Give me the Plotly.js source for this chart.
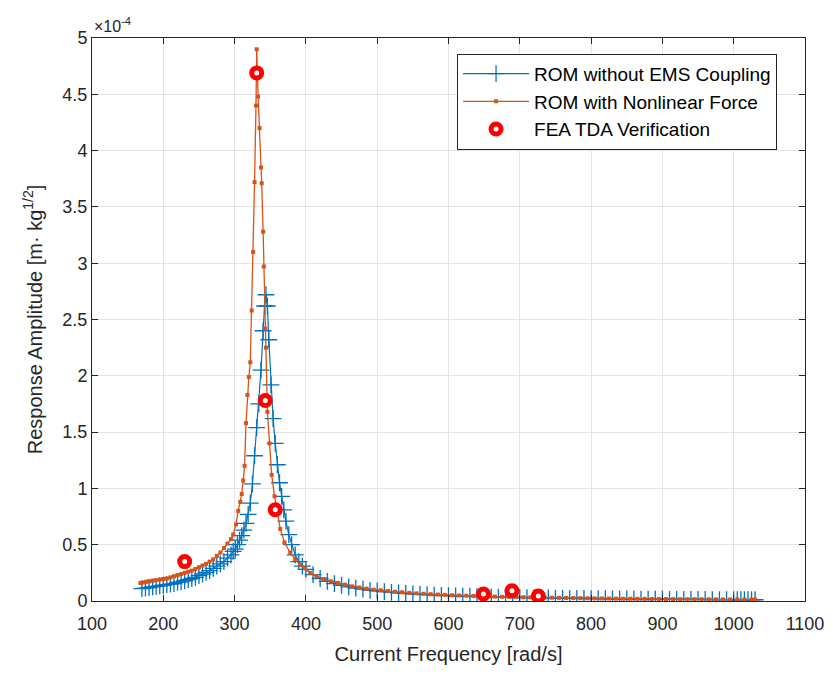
<!DOCTYPE html>
<html>
<head>
<meta charset="utf-8">
<script src="https://cdn.plot.ly/plotly-3.0.1.min.js"></script>
<style>html,body{margin:0;padding:0;background:#fff;}#chart{width:833px;height:677px;}</style>
</head>
<body>
<div id="chart"></div>
<script>
// Amplitudes are given in units of 1e-4 m·kg^1/2
const romFreq = [170,175,180,185,190,195,200,205,210,215,220,225,230,235,240,245,250,255,260,265,270,275,280,285,290,295,298,301,304,307,310,313,316,319,322,325,328,331,334,337,340,342,344,346,348,351,354,357,360,363,366,369,372,376,380,385,390,395,400,410,420,430,440,450,460,470,480,490,500,510,520,530,540,550,560,570,580,590,600,610,620,630,640,650,660,670,680,690,700,710,720,730,740,750,760,770,780,790,800,810,820,830,840,850,860,870,880,890,900,910,920,930,940,950,960,970,980,990,1000,1005,1010,1015,1020,1025,1030];
const romAmp = [0.11,0.115,0.12,0.125,0.13,0.135,0.14,0.145,0.15,0.155,0.165,0.17,0.18,0.19,0.20,0.21,0.225,0.24,0.255,0.27,0.29,0.31,0.33,0.35,0.38,0.41,0.44,0.46,0.50,0.54,0.58,0.63,0.69,0.77,0.87,1.04,1.29,1.54,1.75,2.05,2.40,2.62,2.72,2.62,2.32,1.92,1.62,1.40,1.21,1.05,0.93,0.81,0.71,0.59,0.50,0.41,0.35,0.31,0.28,0.235,0.20,0.175,0.155,0.14,0.125,0.115,0.105,0.095,0.09,0.083,0.077,0.072,0.067,0.063,0.06,0.056,0.053,0.05,0.048,0.046,0.044,0.042,0.04,0.038,0.036,0.035,0.033,0.032,0.031,0.030,0.029,0.028,0.027,0.026,0.025,0.024,0.023,0.022,0.021,0.021,0.020,0.019,0.019,0.018,0.018,0.017,0.017,0.016,0.016,0.015,0.015,0.015,0.014,0.014,0.014,0.013,0.013,0.013,0.012,0.012,0.012,0.012,0.011,0.011,0.011];

const nlFreq = [168,172,176,180,185,190,195,200,205,210,215,220,225,230,235,240,245,250,255,260,265,270,275,280,285,290,295,298,302,305,308,310,312,314,316,318,320,322,324,326,328,330,331,333,335,337,338,340,341,343,344,346,349,352,356,360,364,370,378,385,392,399,406,415,425,435,445,455,465,475,485,495,505,515,525,535,545,555,565,575,585,595,605,615,625,635,645,655,665,675,685,695,705,715,725,735,745,755,765,775,785,795,805,815,825,835,845,855,865,875,885,895,905,915,925,935,945,955,965,975,985,995,1005,1015,1025,1030];
const nlAmp = [0.16,0.165,0.17,0.175,0.18,0.185,0.19,0.195,0.20,0.21,0.22,0.23,0.24,0.25,0.26,0.27,0.285,0.30,0.315,0.33,0.35,0.37,0.40,0.43,0.47,0.51,0.55,0.59,0.68,0.80,0.88,0.95,1.07,1.20,1.58,1.83,1.99,2.12,2.58,3.10,3.72,4.40,4.90,4.48,4.20,3.85,3.71,3.28,2.97,2.42,2.25,1.68,1.40,1.12,0.93,0.78,0.64,0.52,0.43,0.37,0.32,0.29,0.25,0.22,0.195,0.175,0.16,0.145,0.13,0.12,0.11,0.10,0.095,0.088,0.082,0.077,0.072,0.068,0.064,0.06,0.057,0.054,0.051,0.049,0.047,0.045,0.043,0.041,0.039,0.037,0.036,0.034,0.033,0.032,0.031,0.030,0.029,0.028,0.027,0.026,0.025,0.024,0.023,0.022,0.022,0.021,0.020,0.020,0.019,0.019,0.018,0.018,0.017,0.017,0.016,0.016,0.016,0.015,0.015,0.015,0.014,0.014,0.014,0.013,0.013,0.013];

const feaFreq = [230,331,343,357,649,689,726];
const feaAmp = [0.35,4.69,1.78,0.81,0.062,0.09,0.044];

const seriesNames = ["ROM without EMS Coupling","ROM with Nonlinear Force","FEA TDA Verification"];
const xTicks = [100,200,300,400,500,600,700,800,900,1000,1100];
const yTicks = [0,0.5,1,1.5,2,2.5,3,3.5,4,4.5,5];

const FONT = "Liberation Sans, Arial, Helvetica, sans-serif";
const INK = "#262626";

const traces = [
  {x: romFreq, y: romAmp, name: seriesNames[0], type: "scatter", mode: "lines+markers",
   line: {color: "#0072BD", width: 1.2},
   marker: {symbol: "cross-thin", size: 12, color: "#0072BD", line: {color: "#0072BD", width: 1.3}}},
  {x: nlFreq, y: nlAmp, name: seriesNames[1], type: "scatter", mode: "lines+markers",
   line: {color: "#D95319", width: 1.3},
   marker: {symbol: "square", size: 4, color: "#D95319"}},
  {x: feaFreq, y: feaAmp, name: seriesNames[2], type: "scatter", mode: "markers",
   marker: {symbol: "circle", size: 10, color: "#ffffff", line: {color: "#ff0000", width: 5}}}
];

const layout = {
  width: 833, height: 677,
  margin: {l: 92, r: 28, t: 38, b: 76},
  paper_bgcolor: "#ffffff", plot_bgcolor: "#ffffff",
  font: {family: FONT, color: INK, size: 18},
  showlegend: true,
  legend: {x: 0.512, y: 0.972, xanchor: "left", yanchor: "top",
    bgcolor: "#ffffff", bordercolor: INK, borderwidth: 1,
    font: {family: FONT, size: 19, color: "#000000"}, itemwidth: 66, tracegroupgap: 0},
  xaxis: {range: [100, 1100], tickvals: xTicks, ticks: "inside", ticklen: 6, tickcolor: INK,
    showline: true, linecolor: INK, linewidth: 1, mirror: "ticks",
    showgrid: true, gridcolor: "#e3e3e3", gridwidth: 1, zeroline: false,
    ticklabelstandoff: 6,
    tickfont: {size: 18, color: INK, family: FONT},
    title: {text: "Current Frequency [rad/s]", font: {size: 20, color: INK, family: FONT}, standoff: 14}},
  yaxis: {range: [0, 5], tickvals: yTicks, ticks: "inside", ticklen: 6, tickcolor: INK,
    showline: true, linecolor: INK, linewidth: 1, mirror: "ticks",
    showgrid: true, gridcolor: "#e3e3e3", gridwidth: 1, zeroline: false,
    tickfont: {size: 18, color: INK, family: FONT},
    title: {text: "Response Amplitude [m· kg<sup>1/2</sup>]", font: {size: 20, color: INK, family: FONT}, standoff: 14}},
  annotations: [{xref: "paper", yref: "paper", x: 0, y: 1, xanchor: "left", yanchor: "bottom",
    showarrow: false, text: "×10<sup>-4</sup>", font: {size: 16, color: INK, family: FONT}, yshift: 1}]
};

Plotly.newPlot("chart", traces, layout, {displayModeBar: false, staticPlot: true});
</script>
</body>
</html>
